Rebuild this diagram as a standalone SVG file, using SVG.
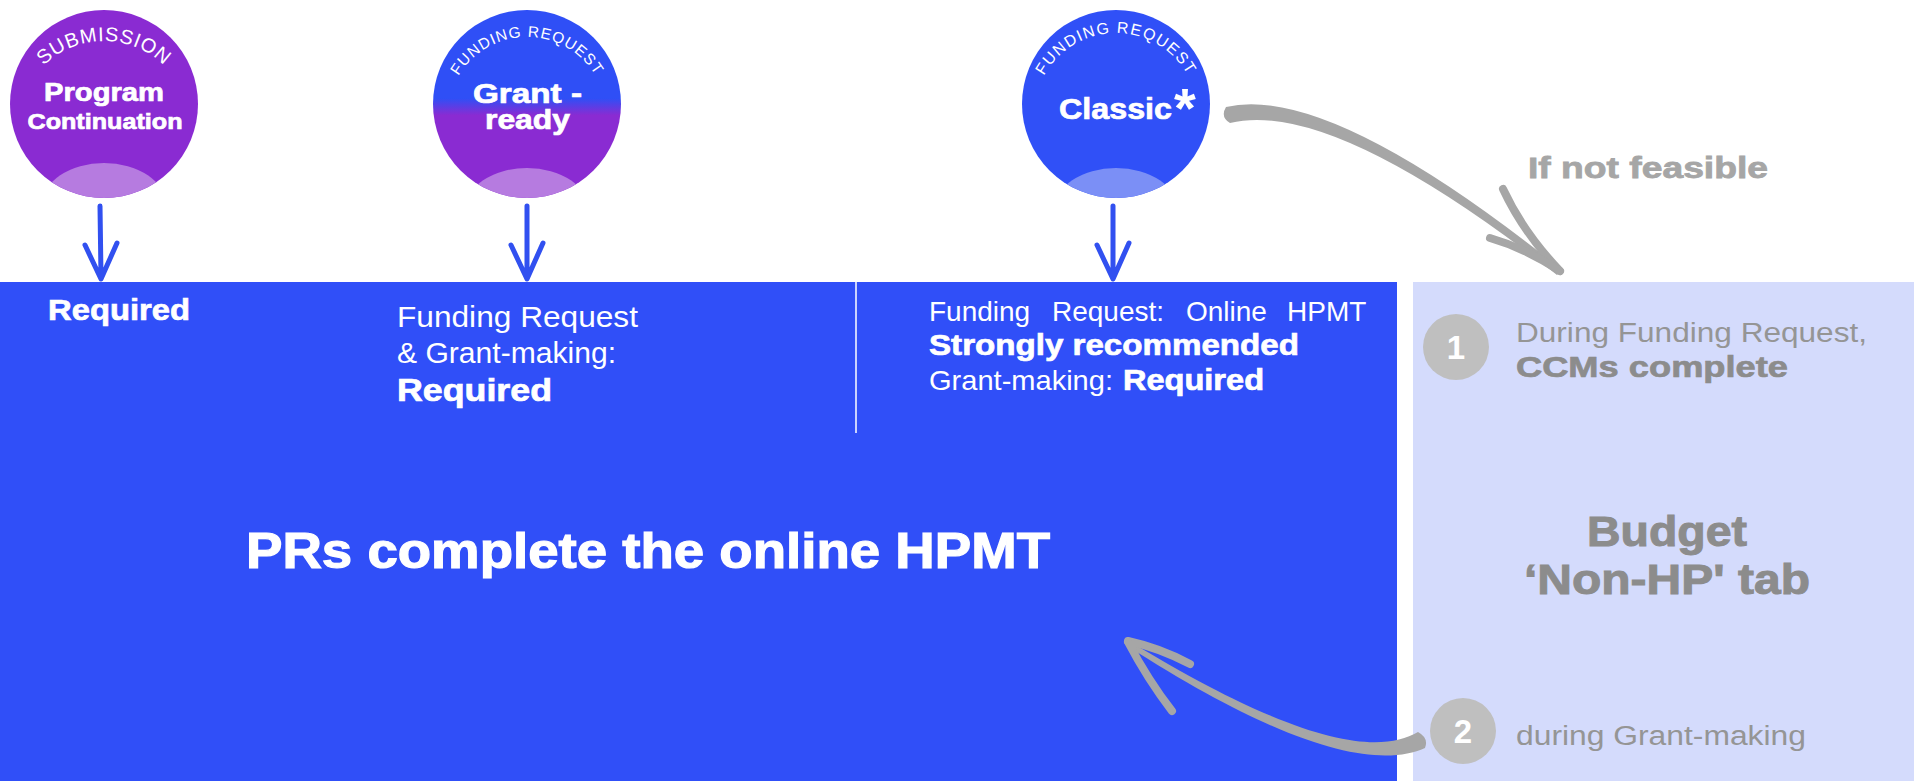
<svg xmlns="http://www.w3.org/2000/svg" xmlns:xlink="http://www.w3.org/1999/xlink" width="1914" height="781" viewBox="0 0 1914 781">
<style>
.t{font-family:"Liberation Sans",Arial,sans-serif}
.w{fill:#ffffff}
.b{font-weight:700}
.hw{stroke:#ffffff;stroke-width:0.7}
.hg{stroke:#8c8c8c;stroke-width:0.7}
.g{fill:#8c8c8c}
.gl{fill:#959595}
.arc{font-family:"Liberation Sans",Arial,sans-serif;fill:#ffffff}
.down{fill:none;stroke:#3150f0;stroke-width:5;stroke-linecap:round;stroke-linejoin:round}
.gray{fill:#a6a6a6}
.barb{fill:none;stroke:#a6a6a6;stroke-width:8;stroke-linecap:round}
</style>
<defs>
<linearGradient id="gr2" x1="0" y1="0" x2="0" y2="1">
<stop offset="0" stop-color="#2f4ff6"/>
<stop offset="0.47" stop-color="#2f4ff6"/>
<stop offset="0.56" stop-color="#8a2bd2"/>
<stop offset="1" stop-color="#8a2bd2"/>
</linearGradient>
<clipPath id="c1"><circle cx="104" cy="104" r="94"/></clipPath>
<clipPath id="c2"><circle cx="527" cy="104" r="94"/></clipPath>
<clipPath id="c3"><circle cx="1116" cy="104" r="94"/></clipPath>
<path id="arc1" d="M18,127 A86,86 0 0 1 190,127"/>
<path id="arc2" d="M447,117 A80,80 0 0 1 607,117"/>
<path id="arc3" d="M1034,115 A82,82 0 0 1 1198,115"/>
</defs>
<rect width="1914" height="781" fill="#ffffff"/>

<g id="main-panel">
<rect x="0" y="282" width="1397" height="499" fill="#304ff8"/>
<line x1="856" y1="282" x2="856" y2="433" stroke="#ffffff" stroke-width="1.5"/>
<text class="t w b hw" x="48" y="320" font-size="30" textLength="142" lengthAdjust="spacingAndGlyphs">Required</text>
<text class="t w" x="397" y="327" font-size="30" textLength="241" lengthAdjust="spacingAndGlyphs">Funding Request</text>
<text class="t w" x="397" y="363" font-size="30" textLength="219" lengthAdjust="spacingAndGlyphs">&amp; Grant-making:</text>
<text class="t w b hw" x="397" y="401" font-size="31" textLength="155" lengthAdjust="spacingAndGlyphs">Required</text>
<text class="t w" y="321" font-size="28"><tspan x="929">Funding</tspan><tspan x="1052">Request:</tspan><tspan x="1186">Online</tspan><tspan x="1287">HPMT</tspan></text>
<text class="t w b hw" x="929" y="355" font-size="29" textLength="370" lengthAdjust="spacingAndGlyphs">Strongly recommended</text>
<text class="t w" x="929" y="390" font-size="28" textLength="184" lengthAdjust="spacingAndGlyphs">Grant-making:</text>
<text class="t w b hw" x="1123" y="390" font-size="29" textLength="141" lengthAdjust="spacingAndGlyphs">Required</text>
<text class="t w b" x="246" y="568" font-size="50" stroke="#ffffff" stroke-width="1.2" textLength="804" lengthAdjust="spacingAndGlyphs">PRs complete the online HPMT</text>
</g>

<g id="side-panel">
<rect x="1413" y="282" width="501" height="499" fill="#d4dbfc"/>
<circle cx="1456" cy="347" r="33" fill="#bfbfbf"/>
<text class="t w b" x="1456" y="359" font-size="33" text-anchor="middle">1</text>
<text class="t gl" x="1516" y="342" font-size="27" textLength="351" lengthAdjust="spacingAndGlyphs">During Funding Request,</text>
<text class="t g b hg" x="1516" y="377" font-size="29" textLength="272" lengthAdjust="spacingAndGlyphs">CCMs complete</text>
<text class="t g b" x="1667" y="546" font-size="43" stroke="#8c8c8c" stroke-width="1" text-anchor="middle" textLength="160" lengthAdjust="spacingAndGlyphs">Budget</text>
<text class="t g b" x="1667" y="594" font-size="43" stroke="#8c8c8c" stroke-width="1" text-anchor="middle" textLength="286" lengthAdjust="spacingAndGlyphs">‘Non-HP' tab</text>
<circle cx="1463" cy="731" r="33" fill="#bfbfbf"/>
<text class="t w b" x="1463" y="743" font-size="33" text-anchor="middle">2</text>
<text class="t gl" x="1516" y="745" font-size="27" textLength="290" lengthAdjust="spacingAndGlyphs">during Grant-making</text>
</g>

<g id="node-submission">
<circle cx="104" cy="104" r="94" fill="#8a2bd2"/>
<ellipse cx="104" cy="205" rx="62" ry="42" fill="#b67be0" clip-path="url(#c1)"/>
<text class="arc" font-size="20" letter-spacing="0.8"><textPath href="#arc1" startOffset="50%" text-anchor="middle">SUBMISSION</textPath></text>
<text class="t w b hw" x="104" y="101" font-size="25" text-anchor="middle" textLength="120" lengthAdjust="spacingAndGlyphs">Program</text>
<text class="t w b hw" x="105" y="129" font-size="22" text-anchor="middle" textLength="155" lengthAdjust="spacingAndGlyphs">Continuation</text>
</g>

<g id="node-grant-ready">
<circle cx="527" cy="104" r="94" fill="url(#gr2)"/>
<ellipse cx="527" cy="210" rx="62" ry="42" fill="#b67be0" clip-path="url(#c2)"/>
<text class="arc" font-size="15.5" letter-spacing="1"><textPath href="#arc2" startOffset="50%" text-anchor="middle">FUNDING REQUEST</textPath></text>
<text class="t w b hw" x="473" y="103" font-size="27" textLength="109" lengthAdjust="spacingAndGlyphs">Grant -</text>
<text class="t w b hw" x="485" y="129" font-size="27" textLength="85" lengthAdjust="spacingAndGlyphs">ready</text>
</g>

<g id="node-classic">
<circle cx="1116" cy="104" r="94" fill="#3050f7"/>
<ellipse cx="1116" cy="210" rx="62" ry="42" fill="#7b8ff6" clip-path="url(#c3)"/>
<text class="arc" font-size="16" letter-spacing="1.4"><textPath href="#arc3" startOffset="50%" text-anchor="middle">FUNDING REQUEST</textPath></text>
<text class="t w b hw" x="1059" y="119" font-size="30" textLength="113" lengthAdjust="spacingAndGlyphs">Classic</text>
<text class="t w b" x="1174" y="127" font-size="56">*</text>
</g>

<g id="label-if-not-feasible">
<text class="t b" x="1528" y="178" font-size="30" fill="#a6a6a6" stroke="#a6a6a6" stroke-width="0.8" textLength="240" lengthAdjust="spacingAndGlyphs">If not feasible</text>
</g>

<g id="connectors">
<path class="down" d="M100,206 L101,277 M85,245 L101,279 L117,243"/>
<path class="down" d="M527,206 L527,277 M511,245 L527,279 L543,243"/>
<path class="down" d="M1113,206 L1113,277 M1097,245 L1113,279 L1129,243"/>
<path class="gray" d="M1226,107 Q1329,83 1562,270 L1557,275 Q1331,98 1230,123 Q1220,117 1226,107 Z"/>
<path class="barb" d="M1503,189 Q1523,232 1560,271"/>
<path class="barb" d="M1490,238 Q1525,248 1560,271"/>
<path class="gray" d="M1418,732 C1378,755 1300,745 1129,641 L1126,645 C1298,756 1382,767 1425,748 Q1429,738 1418,732 Z"/>
<path class="barb" d="M1128,641 Q1160,648 1190,664"/>
<path class="barb" d="M1128,642 Q1148,680 1172,711"/>
</g>
</svg>
